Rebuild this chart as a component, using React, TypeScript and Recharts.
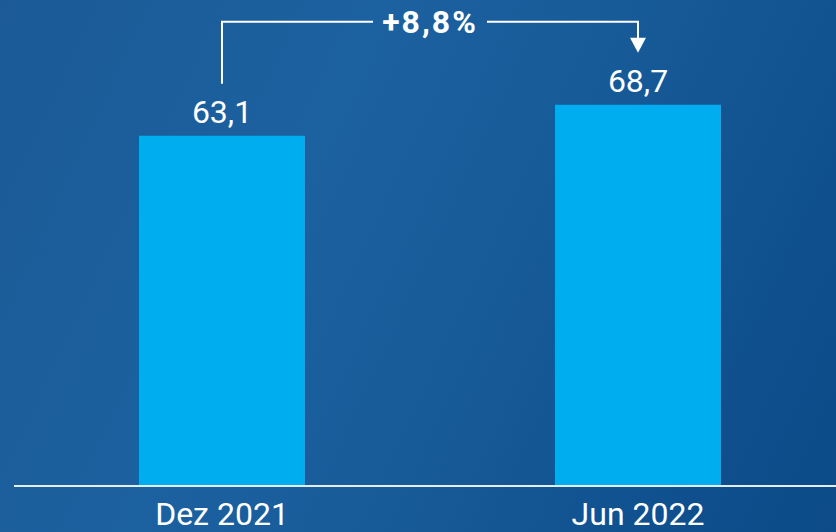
import React from 'react';
import { BarChart, Bar, XAxis, YAxis, LabelList, ReferenceLine } from 'recharts';

const categories: string[] = ['Dez 2021', 'Jun 2022'];
const values: number[] = [63.1, 68.7];
const valueLabels: string[] = ['63,1', '68,7'];
const changeLabel = '+8,8%';
const yDomain: [number, number] = [0, 80];

const data = categories.map((c, i) => ({ name: c, value: values[i], label: valueLabels[i] }));

const FONT = 'Roboto, "Noto Sans", sans-serif';
const BAR_COLOR = '#00adee';

const ValueLabel = (props: any) => {
  const { x, y, width, index } = props;
  return (
    <text x={x + width / 2} y={y - 13} textAnchor="middle" fill="#ffffff" fontSize={32} fontFamily={FONT}>
      {valueLabels[index]}
    </text>
  );
};

const Tick = (props: any) => {
  const { x, y, payload } = props;
  return (
    <text x={x} y={y + 39} textAnchor="middle" fill="#ffffff" fontSize={32} fontFamily={FONT}>
      {payload.value}
    </text>
  );
};

const Bracket = (props: any) => {
  const { x1, y1, x2, y2 } = props;
  if ([x1, y1, x2, y2].some((v) => typeof v !== 'number' || isNaN(v))) return null;
  const level = Math.min(y1, y2) - 83;
  const leftBottom = y1 - 52;
  const tip = y2 - 52;
  const mid = (x1 + x2) / 2;
  const halfGap = 57;
  return (
    <g>
      <polyline
        points={`${x1},${leftBottom} ${x1},${level} ${mid - halfGap},${level}`}
        fill="none"
        stroke="#ffffff"
        strokeWidth={2}
      />
      <polyline
        points={`${mid + halfGap},${level} ${x2},${level} ${x2},${tip - 14}`}
        fill="none"
        stroke="#ffffff"
        strokeWidth={2}
      />
      <polygon points={`${x2 - 8},${tip - 15} ${x2 + 8},${tip - 15} ${x2},${tip}`} fill="#ffffff" />
      <text
        x={mid}
        y={level + 11}
        textAnchor="middle"
        fill="#ffffff"
        fontSize={32}
        fontWeight={700}
        fontFamily={FONT}
        letterSpacing={2}
      >
        {changeLabel}
      </text>
    </g>
  );
};

export default function App() {
  return (
    <div
      style={{
        position: 'absolute',
        left: 0,
        top: 0,
        width: 836,
        height: 532,
        overflow: 'hidden',
        background:
          'linear-gradient(115deg, #1b5a96 0%, #1c61a0 35%, #175a98 60%, #0f4f8d 85%, #0c4b88 100%)',
      }}
    >
      <BarChart
        width={846}
        height={532}
        data={data}
        margin={{ top: 42, right: 0, bottom: 0, left: 14 }}
        barSize={166}
      >
        <YAxis hide domain={yDomain} />
        <XAxis
          dataKey="name"
          height={46}
          axisLine={{ stroke: '#e4ecf4', strokeWidth: 2 }}
          tickLine={false}
          tickSize={0}
          tickMargin={0}
          tick={<Tick />}
          interval={0}
        />
        <Bar dataKey="value" fill={BAR_COLOR} isAnimationActive={false}>
          <LabelList dataKey="value" content={<ValueLabel />} />
        </Bar>
        <ReferenceLine
          segment={[
            { x: categories[0], y: values[0] },
            { x: categories[1], y: values[1] },
          ]}
          shape={(p: any) => <Bracket {...p} />}
        />
      </BarChart>
    </div>
  );
}
